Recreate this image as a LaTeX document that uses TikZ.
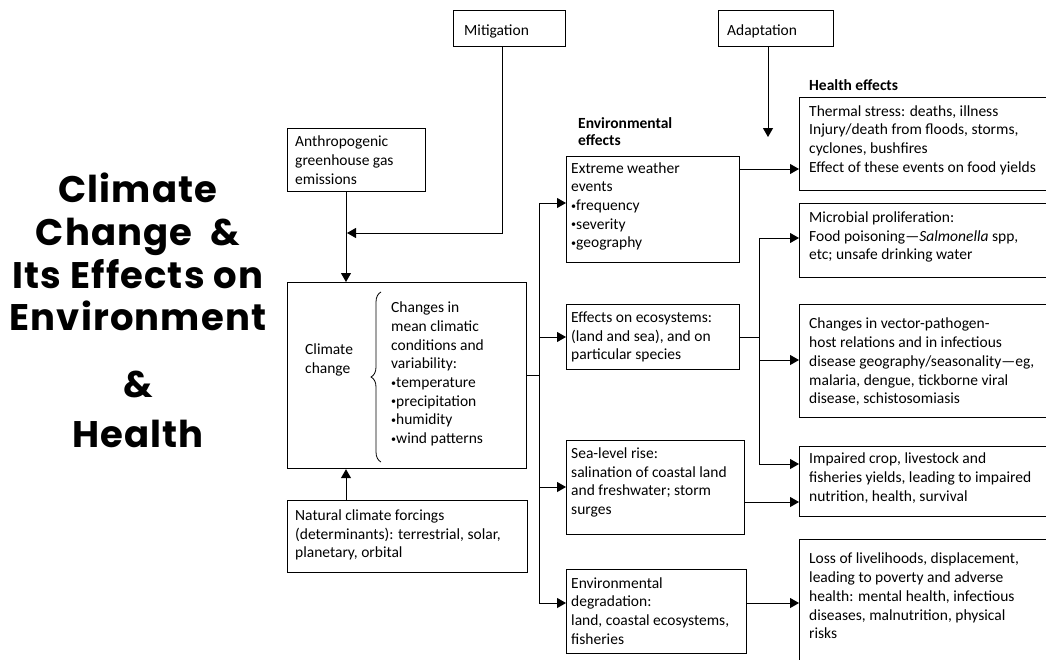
\documentclass[tikz,border=0pt]{standalone}
\usepackage{fontspec}
\setmainfont{Carlito}
\newfontfamily\titlefont[LetterSpace=3]{Poppins}
\usetikzlibrary{arrows.meta,decorations.pathreplacing}
\newcommand\smbul{\raisebox{0.2ex}{\scalebox{0.65}{\textbullet}}}
\begin{document}
\begin{tikzpicture}[x=1pt,y=-1pt,
  box/.style={draw, line width=1.2pt, inner sep=0pt, anchor=north west},
  txt/.style={align=left, inner sep=0pt, anchor=west, font=\fontsize{15.5}{18.7}\selectfont},
  head/.style={align=left, inner sep=0pt, anchor=west, font=\fontsize{15.5}{17}\selectfont\bfseries},
  conn/.style={line width=1pt},
  arr/.style={conn, -{Triangle[length=9pt,width=10pt]}},
  ttl/.style={anchor=base, inner sep=0pt, font=\titlefont\bfseries\fontsize{37}{40}\selectfont}]
\useasboundingbox (0,0) rectangle (1046,659);
\fill[white] (0,0) rectangle (1046,659);

% title
\node[ttl] (t1l) at (138,202) {Climate};
\node[ttl] (t2l) at (138,245) {Change~~\&};
\node[ttl] (t3l) at (138,288) {Its Effects on};
\node[ttl] (t4l) at (138,330) {Environment};
\node[ttl] (t5l) at (138,397) {\&};
\node[ttl] (t6l) at (138,447) {Health};

% boxes
\node[box, minimum width=112, minimum height=36] (mit) at (453,10) {};
\node[box, minimum width=115, minimum height=36] (ada) at (718,10) {};
\node[box, minimum width=138, minimum height=63] (ant) at (287,128) {};
\node[box, minimum width=239, minimum height=186] (cc) at (287,282) {};
\node[box, minimum width=240, minimum height=72] (nat) at (287,500) {};
\node[box, minimum width=173, minimum height=106] (ext) at (566,156) {};
\node[box, minimum width=173, minimum height=65] (eco) at (566,304) {};
\node[box, minimum width=178, minimum height=94] (sea) at (566,440) {};
\node[box, minimum width=180, minimum height=84] (deg) at (566,569) {};
\node[box, minimum width=260, minimum height=93] (th) at (799,97) {};
\node[box, minimum width=260, minimum height=74] (mic) at (799,203) {};
\node[box, minimum width=260, minimum height=113] (vec) at (799,304) {};
\node[box, minimum width=260, minimum height=70] (crop) at (799,446) {};
\node[box, minimum width=260, minimum height=130] (loss) at (799,539) {};

% texts
\node[txt] (mitt) at (464,31) {Mitigation};
\node[txt] (adat) at (727,31) {Adaptation};
\node[txt] (antt) at (295,160) {Anthropogenic\\greenhouse gas\\emissions};
\node[txt] (cct) at (305,360) {Climate\\change};
\node[txt] (cclist) at (391,374) {Changes in\\mean climatic\\conditions and\\variability:\\\smbul temperature\\\smbul precipitation\\\smbul humidity\\\smbul wind patterns};
\node[txt] (natt) at (295,535) {Natural climate forcings\\(determinants): terrestrial, solar,\\planetary, orbital};
\node[head] (envh) at (578,131.5) {Environmental\\effects};
\node[head] (healh) at (809,85) {Health effects};
\node[txt] (extt) at (571,206.5) {Extreme weather\\events\\\smbul frequency\\\smbul severity\\\smbul geography};
\node[txt] (ecot) at (571,337) {Effects on ecosystems:\\(land and sea), and on\\particular species};
\node[txt] (seat) at (571,482.5) {Sea-level rise:\\salination of coastal land\\and freshwater; storm\\surges};
\node[txt] (degt) at (571,611) {Environmental\\degradation:\\land, coastal ecosystems,\\fisheries};
\node[txt] (tht) at (809,140) {Thermal stress: deaths, illness\\Injury/death from floods, storms,\\cyclones, bushfires\\Effect of these events on food yields};
\node[txt] (mict) at (809,237) {Microbial proliferation:\\Food poisoning---\textit{Salmonella} spp,\\etc; unsafe drinking water};
\node[txt] (vect) at (809,362) {Changes in vector-pathogen-\\host relations and in infectious\\disease geography/seasonality---eg,\\malaria, dengue, tickborne viral\\disease, schistosomiasis};
\node[txt] (cropt) at (809,478) {Impaired crop, livestock and\\fisheries yields, leading to impaired\\nutrition, health, survival};
\node[txt] (losst) at (809,596) {Loss of livelihoods, displacement,\\leading to poverty and adverse\\health: mental health, infectious\\diseases, malnutrition, physical\\risks};

% brace
\coordinate (bra) at (381,462);
\coordinate (brb) at (381,292);
\draw[line width=0.8pt, decorate, decoration={brace, amplitude=10pt}] (bra) -- (brb);

% coordinates
\coordinate (ax) at (346,0);
\coordinate (mitbend) at (502,233);
\coordinate (mitend) at (347,233);
\coordinate (adend) at (768,137);
\coordinate (a1) at (539,203);
\coordinate (a2) at (539,337);
\coordinate (a3) at (539,487);
\coordinate (a4) at (539,603);
\coordinate (s1) at (759,238);
\coordinate (s2) at (759,360);
\coordinate (s3) at (759,464);
\coordinate (y1) at (0,169);
\coordinate (y2) at (0,502);
\coordinate (y3) at (0,603);

% connectors
\draw[arr] (mitbend |- mit.south) -- (mitbend) -- (mitend);
\draw[arr] (adend |- ada.south) -- (adend);
\draw[arr] (ax |- ant.south) -- (ax |- cc.north);
\draw[arr] (ax |- nat.north) -- (ax |- cc.south);
\draw[conn] (cc.east) -- (cc.east -| a1);
\draw[conn] (a1) -- (a4);
\draw[arr] (a1) -- (ext.west |- a1);
\draw[arr] (a2) -- (eco.west |- a2);
\draw[arr] (a3) -- (sea.west |- a3);
\draw[arr] (a4) -- (deg.west |- a4);
\draw[conn] (eco.east) -- (eco.east -| s1);
\draw[conn] (s1) -- (s3);
\draw[arr] (s1) -- (mic.west |- s1);
\draw[arr] (s2) -- (vec.west |- s2);
\draw[arr] (s3) -- (crop.west |- s3);
\draw[arr] (ext.east |- y1) -- (th.west |- y1);
\draw[arr] (sea.east |- y2) -- (crop.west |- y2);
\draw[arr] (deg.east |- y3) -- (loss.west |- y3);
\end{tikzpicture}
\end{document}
